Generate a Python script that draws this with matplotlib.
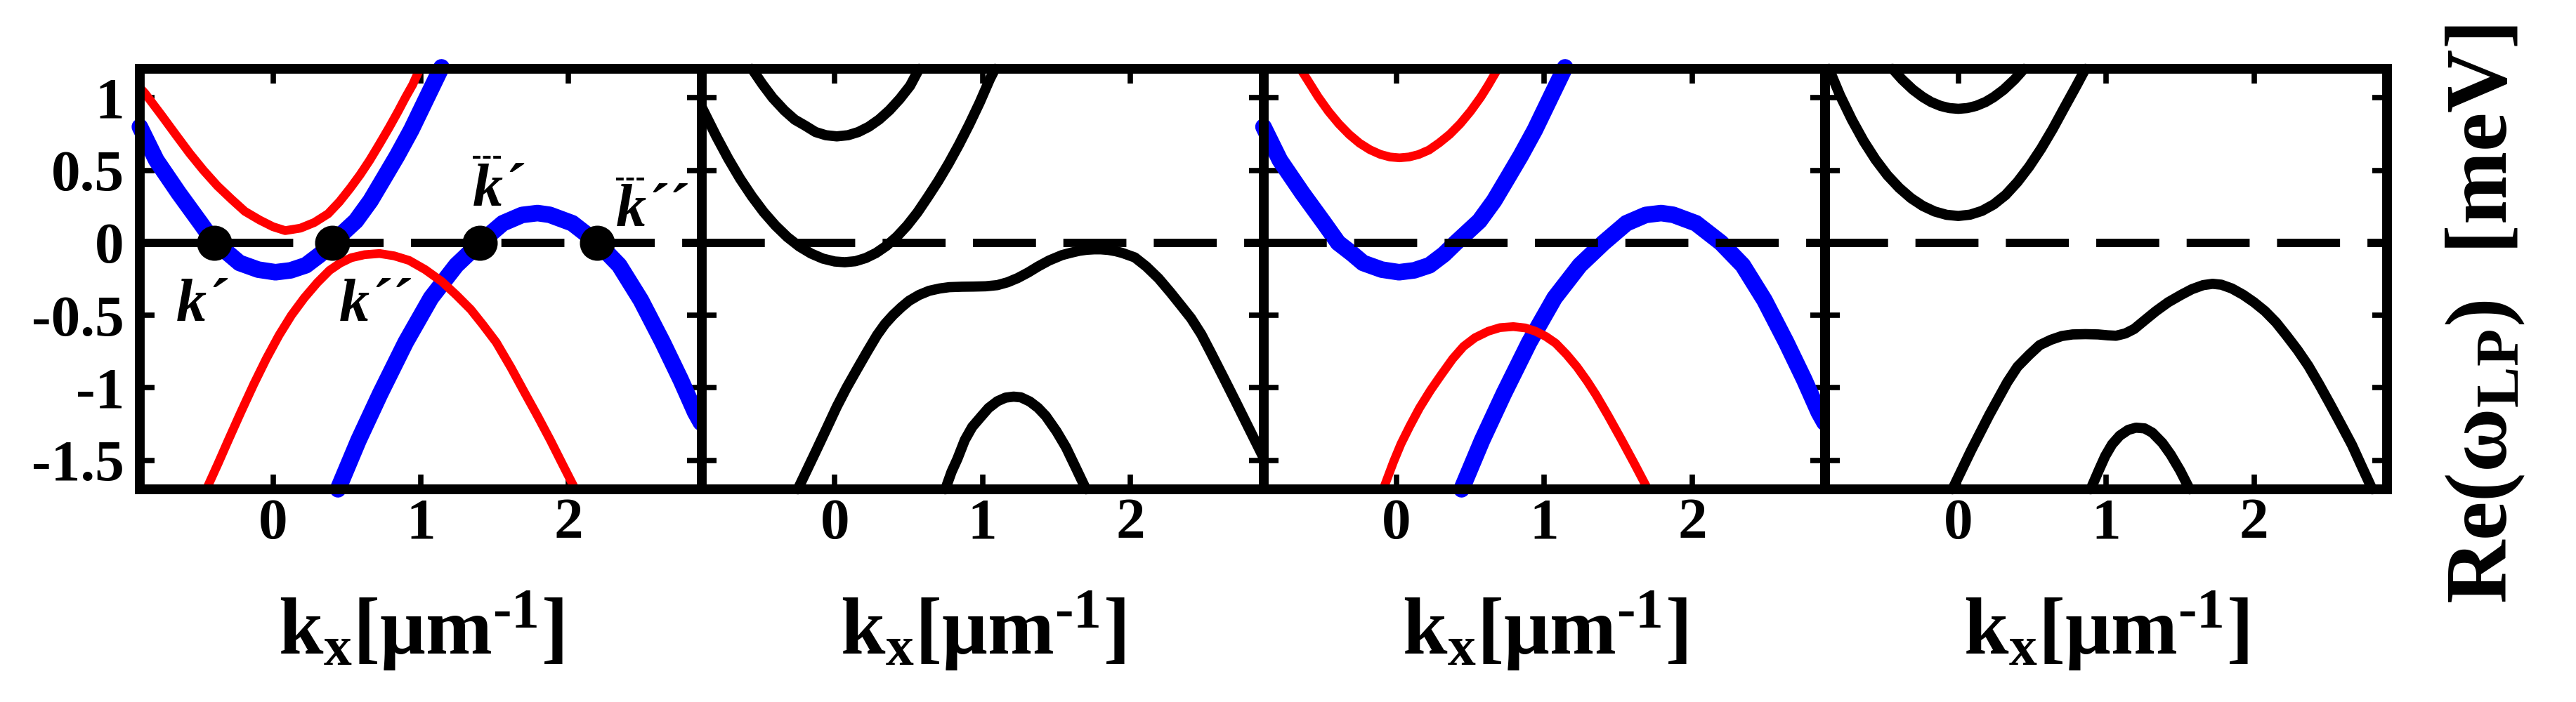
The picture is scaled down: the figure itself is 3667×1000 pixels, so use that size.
import matplotlib
matplotlib.use("Agg")
import matplotlib.pyplot as plt

plt.rcParams["font.family"] = ["Liberation Serif", "DejaVu Serif"]
plt.rcParams["font.weight"] = "bold"
plt.rcParams["mathtext.fontset"] = "custom"
plt.rcParams["mathtext.rm"] = "Liberation Serif:bold"
plt.rcParams["mathtext.it"] = "Liberation Serif:italic:bold"
plt.rcParams["mathtext.bf"] = "Liberation Serif:bold"
plt.rcParams["axes.unicode_minus"] = False

# axes
x_ticks = [0, 1, 2]
x_tick_labels = ["0", "1", "2"]
y_ticks = [1, 0.5, 0, -0.5, -1, -1.5]
y_tick_labels = ["1", "0.5", "0", "-0.5", "-1", "-1.5"]
x_label = r"k$_\mathregular{x}$[μm$^{\text{-1}}$]"
y_label = r"Re(ω$_\mathregular{LP}$)  [meV]"

# panel 1 (uncoupled branches)
p1_red_up_x = [-0.90, -0.864, -0.751, -0.656, -0.564, -0.47, -0.376, -0.28, -0.19, -0.09,
               0.0, 0.083, 0.186, 0.28, 0.373, 0.45, 0.523, 0.59, 0.655, 0.72,
               0.786, 0.845, 0.898, 0.945, 0.982, 0.995]
p1_red_up_y = [1.07, 1.029, 0.876, 0.744, 0.618, 0.50, 0.393, 0.30, 0.217, 0.157,
               0.111, 0.084, 0.101, 0.14, 0.20, 0.283, 0.377, 0.47, 0.570, 0.68,
               0.795, 0.903, 1.005, 1.09, 1.174, 1.20]
p1_red_lo_x = [-0.45, -0.37, -0.302, -0.22, -0.13, -0.045, 0.041, 0.125, 0.212, 0.30,
               0.383, 0.455, 0.53, 0.62, 0.721, 0.82, 0.922, 1.03, 1.142, 1.24,
               1.338, 1.42, 1.51, 1.61, 1.706, 1.79, 1.877, 1.96, 2.045]
p1_red_lo_y = [-1.70, -1.52, -1.362, -1.175, -0.976, -0.80, -0.638, -0.50, -0.380, -0.275,
               -0.19, -0.14, -0.103, -0.082, -0.074, -0.09, -0.122, -0.185, -0.267, -0.36,
               -0.46, -0.565, -0.686, -0.86, -1.04, -1.195, -1.362, -1.53, -1.70]
blue_up_x = [-0.90, -0.789, -0.638, -0.489, -0.395, -0.30, -0.226, -0.10, 0.017, 0.12,
             0.223, 0.32, 0.401, 0.561, 0.66, 0.748, 0.84, 0.936, 1.05, 1.14]
blue_up_y = [0.80, 0.570, 0.344, 0.135, 0.0, -0.075, -0.139, -0.185, -0.203, -0.19,
             -0.155, -0.08, 0.0, 0.151, 0.29, 0.441, 0.60, 0.779, 1.02, 1.21]
blue_lo_x = [0.44, 0.579, 0.726, 0.898, 1.069, 1.24, 1.40, 1.555, 1.685, 1.79,
             1.872, 2.025, 2.195, 2.342, 2.489, 2.636, 2.758, 2.856, 2.895]
blue_lo_y = [-1.70, -1.362, -1.04, -0.686, -0.380, -0.155, 0.0, 0.135, 0.192, 0.205,
             0.193, 0.135, 0.0, -0.155, -0.396, -0.686, -0.944, -1.169, -1.24]

# panel 2 (coupled)
p2_a_x = [-0.56, -0.49, -0.42, -0.34, -0.27, -0.20, -0.13, -0.06, 0.014, 0.09,
          0.16, 0.23, 0.30, 0.37, 0.44, 0.51, 0.571]
p2_a_y = [1.20, 1.095, 1.00, 0.912, 0.849, 0.808, 0.764, 0.742, 0.734, 0.742,
          0.764, 0.80, 0.85, 0.914, 0.992, 1.083, 1.20]
p2_b_x = [-0.897, -0.80, -0.72, -0.64, -0.56, -0.48, -0.40, -0.32, -0.24, -0.16,
          -0.08, 0.0, 0.068, 0.14, 0.21, 0.28, 0.35, 0.42, 0.49, 0.56,
          0.63, 0.70, 0.77, 0.84, 0.91, 0.98, 1.05, 1.085]
p2_b_y = [0.93, 0.732, 0.580, 0.442, 0.320, 0.211, 0.118, 0.039, -0.025, -0.074,
          -0.109, -0.129, -0.134, -0.127, -0.105, -0.070, -0.021, 0.042, 0.119, 0.210,
          0.316, 0.426, 0.546, 0.676, 0.816, 0.966, 1.13, 1.20]
p2_c_x = [-0.25, -0.18, -0.122, -0.05, 0.014, 0.08, 0.15, 0.22, 0.286, 0.34,
          0.394, 0.45, 0.503, 0.57, 0.639, 0.71, 0.775, 0.86, 0.939, 1.02,
          1.10, 1.17, 1.238, 1.31, 1.374, 1.45, 1.537, 1.60, 1.655, 1.705,
          1.755, 1.80, 1.85, 1.90, 1.945, 2.03, 2.108, 2.19, 2.27, 2.34,
          2.41, 2.48, 2.544, 2.63, 2.71, 2.80, 2.884, 2.9]
p2_c_y = [-1.70, -1.55, -1.426, -1.27, -1.13, -1.00, -0.874, -0.75, -0.637, -0.56,
          -0.499, -0.445, -0.40, -0.36, -0.331, -0.315, -0.306, -0.303, -0.302, -0.300,
          -0.292, -0.272, -0.243, -0.204, -0.164, -0.122, -0.085, -0.068, -0.055, -0.048,
          -0.045, -0.045, -0.049, -0.058, -0.07, -0.101, -0.164, -0.245, -0.341, -0.43,
          -0.52, -0.632, -0.757, -0.929, -1.091, -1.276, -1.448, -1.48]
p2_d_x = [0.748, 0.79, 0.83, 0.88, 0.93, 0.993, 1.04, 1.10, 1.155, 1.21,
          1.26, 1.32, 1.375, 1.428, 1.50, 1.564, 1.63, 1.70]
p2_d_y = [-1.70, -1.58, -1.49, -1.36, -1.27, -1.195, -1.14, -1.093, -1.068, -1.061,
          -1.066, -1.095, -1.138, -1.195, -1.30, -1.41, -1.55, -1.70]

# panel 3 (uncoupled, other detuning)
p3_red_up_x = [-0.65, -0.60, -0.53, -0.46, -0.39, -0.32, -0.25, -0.18, -0.11, -0.045,
               0.02, 0.085, 0.15, 0.22, 0.29, 0.36, 0.43, 0.50, 0.57, 0.62, 0.685]
p3_red_up_y = [1.20, 1.12, 1.006, 0.906, 0.82, 0.747, 0.687, 0.642, 0.61, 0.592,
               0.586, 0.592, 0.609, 0.64, 0.69, 0.748, 0.82, 0.906, 1.005, 1.086, 1.20]
p3_red_lo_x = [-0.09, -0.02, 0.03, 0.09, 0.155, 0.23, 0.30, 0.38, 0.453, 0.53,
               0.62, 0.70, 0.79, 0.87, 0.94, 1.01, 1.077, 1.15, 1.22, 1.29,
               1.35, 1.43, 1.52, 1.61, 1.70]
p3_red_lo_y = [-1.70, -1.51, -1.387, -1.264, -1.14, -1.017, -0.914, -0.80, -0.715, -0.655,
               -0.61, -0.585, -0.578, -0.587, -0.61, -0.646, -0.693, -0.77, -0.855, -0.955,
               -1.05, -1.19, -1.355, -1.525, -1.70]

# panel 4 (coupled)
p4_a_x = [-0.445, -0.38, -0.307, -0.24, -0.184, -0.12, -0.06, 0.0, 0.06, 0.12,
          0.184, 0.24, 0.307, 0.38, 0.445]
p4_a_y = [1.20, 1.126, 1.056, 1.005, 0.971, 0.944, 0.929, 0.924, 0.929, 0.944,
          0.971, 1.005, 1.056, 1.126, 1.20]
p4_b_x = [-0.875, -0.80, -0.72, -0.64, -0.56, -0.48, -0.40, -0.32, -0.24, -0.16,
          -0.08, 0.0, 0.08, 0.16, 0.24, 0.32, 0.40, 0.48, 0.56, 0.64,
          0.72, 0.80, 0.86]
p4_b_y = [1.20, 1.017, 0.849, 0.701, 0.574, 0.466, 0.379, 0.308, 0.254, 0.216,
          0.193, 0.185, 0.194, 0.22, 0.265, 0.33, 0.419, 0.526, 0.649, 0.787,
          0.937, 1.085, 1.20]
p4_c_x = [-0.04, 0.086, 0.209, 0.27, 0.331, 0.40, 0.479, 0.55, 0.626, 0.70,
          0.773, 0.86, 0.945, 1.01, 1.067, 1.13, 1.19, 1.26, 1.337, 1.42,
          1.509, 1.58, 1.656, 1.72, 1.779, 1.85, 1.926, 2.0, 2.074, 2.15,
          2.221, 2.295, 2.368, 2.44, 2.515, 2.59, 2.663, 2.73, 2.80]
p4_c_y = [-1.70, -1.433, -1.188, -1.075, -0.962, -0.855, -0.773, -0.706, -0.669, -0.643,
          -0.632, -0.630, -0.632, -0.638, -0.641, -0.625, -0.594, -0.535, -0.471, -0.41,
          -0.358, -0.32, -0.292, -0.283, -0.289, -0.315, -0.358, -0.41, -0.471, -0.55,
          -0.641, -0.74, -0.849, -0.975, -1.113, -1.255, -1.395, -1.545, -1.70]
p4_d_x = [0.895, 0.95, 0.994, 1.04, 1.092, 1.15, 1.202, 1.26, 1.313, 1.38,
          1.436, 1.50, 1.565]
p4_d_y = [-1.70, -1.57, -1.47, -1.39, -1.33, -1.29, -1.275, -1.28, -1.31, -1.38,
          -1.46, -1.57, -1.70]

# zero crossings and their labels (panel 1)
dot_x = [-0.395, 0.401, 1.40, 2.195]
dot_y = [0, 0, 0, 0]
lab_text = ["k´", "k´´", "k´", "k´´"]
lab_x = [-0.654, 0.45, 1.351, 2.322]
lab_y = [-0.536, -0.536, 0.256, 0.116]
bar_x0 = [1.351, 2.322]
bar_x1 = [1.55, 2.52]
bar_y = [0.59, 0.44]

BLUE_LW = 17
RED_LW = 9
BLACK_LW = 10.5


def style_axes(ax, first):
    ax.set_xlim(-0.9, 2.9)
    ax.set_ylim(-1.7, 1.2)
    ax.set_xticks(x_ticks)
    ax.set_xticklabels(x_tick_labels)
    ax.set_yticks(y_ticks)
    ax.set_yticklabels(y_tick_labels)
    ax.tick_params(axis="both", direction="in", top=True, right=True,
                   length=15, width=5.5, labelsize=60)
    ax.tick_params(axis="x", pad=9)
    ax.tick_params(axis="y", pad=16, labelleft=first)
    for spine in ax.spines.values():
        spine.set_linewidth(10)
        spine.set_zorder(7)
    ax.axhline(0, color="black", lw=8.5, dashes=(7.6, 3.3), zorder=4)
    ax.text(0.5, -0.392, x_label, transform=ax.transAxes, ha="center",
            va="baseline", fontsize=82, fontweight="bold")


def curve(ax, x, y, color, lw):
    ax.plot(x, y, color=color, lw=lw, solid_capstyle="round",
            solid_joinstyle="round", clip_on=False, zorder=3)


def main():
    fig, axes = plt.subplots(1, 4, figsize=(36.67, 10), dpi=100)
    fig.subplots_adjust(left=0.0543, right=0.92665, top=0.902, bottom=0.303, wspace=0)

    for i, ax in enumerate(axes):
        style_axes(ax, i == 0)

    # panel 1
    ax = axes[0]
    curve(ax, blue_up_x, blue_up_y, "#0000ff", BLUE_LW)
    curve(ax, blue_lo_x, blue_lo_y, "#0000ff", BLUE_LW)
    curve(ax, p1_red_up_x, p1_red_up_y, "#ff0000", RED_LW)
    curve(ax, p1_red_lo_x, p1_red_lo_y, "#ff0000", RED_LW)
    ax.plot(dot_x, dot_y, "o", ms=35, color="black", zorder=6)
    for t, x, y in zip(lab_text, lab_x, lab_y):
        ax.text(x, y, t, fontsize=62, fontstyle="italic", fontweight="bold",
                ha="left", va="baseline")
    for x0, x1, y in zip(bar_x0, bar_x1, bar_y):
        ax.plot([x0, x1], [y, y], color="black", lw=3, dashes=(2.6, 0.9))

    # panel 2
    ax = axes[1]
    for x, y in [(p2_a_x, p2_a_y), (p2_b_x, p2_b_y), (p2_c_x, p2_c_y), (p2_d_x, p2_d_y)]:
        curve(ax, x, y, "black", BLACK_LW)

    # panel 3
    ax = axes[2]
    curve(ax, blue_up_x, blue_up_y, "#0000ff", BLUE_LW)
    curve(ax, blue_lo_x, blue_lo_y, "#0000ff", BLUE_LW)
    curve(ax, p3_red_up_x, p3_red_up_y, "#ff0000", RED_LW)
    curve(ax, p3_red_lo_x, p3_red_lo_y, "#ff0000", RED_LW)

    # panel 4
    ax = axes[3]
    for x, y in [(p4_a_x, p4_a_y), (p4_b_x, p4_b_y), (p4_c_x, p4_c_y), (p4_d_x, p4_d_y)]:
        curve(ax, x, y, "black", BLACK_LW)

    fig.text(0.973, 0.552, y_label, rotation=90, rotation_mode="anchor",
             ha="center", va="baseline", fontsize=90, fontweight="bold")

    fig.savefig("out.png", dpi=100, facecolor="white")


if __name__ == "__main__":
    main()
